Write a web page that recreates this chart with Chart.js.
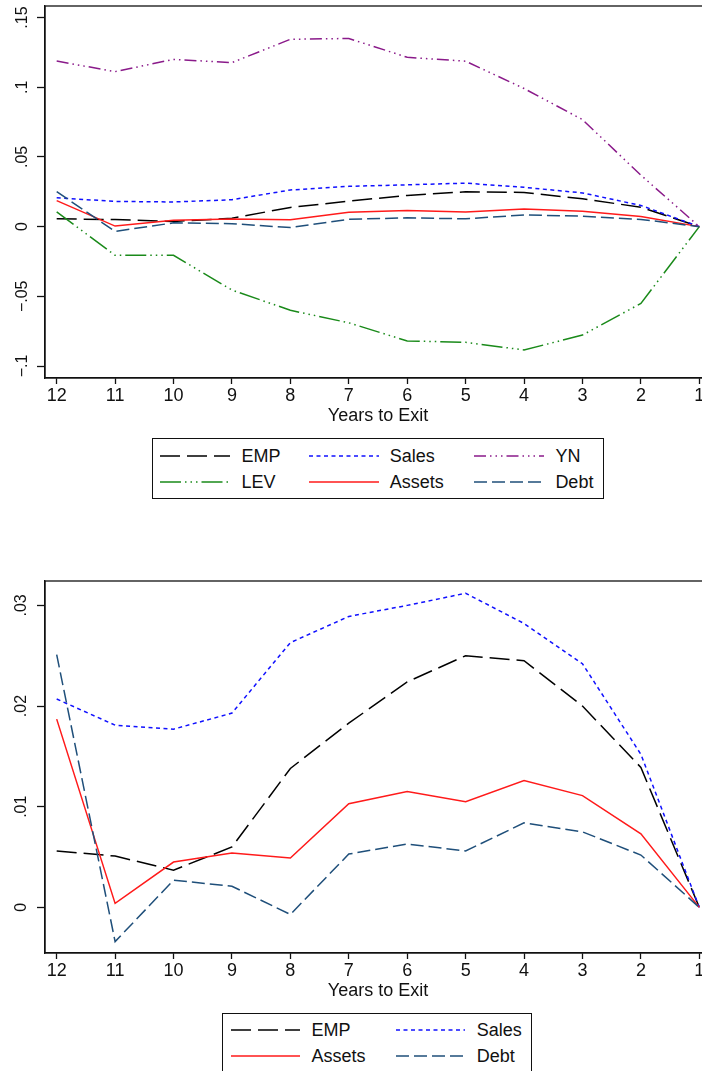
<!DOCTYPE html>
<html><head><meta charset="utf-8">
<script src="https://cdn.jsdelivr.net/npm/chart.js@4.4.1/dist/chart.umd.min.js"></script>
<style>
html,body{margin:0;padding:0;background:#fff;overflow:hidden;width:702px;height:1071px;}
#wrap{position:relative;width:702px;height:1071px;overflow:hidden;font-family:"Liberation Sans",Arial,Helvetica,sans-serif;}
canvas{position:absolute;left:0;}
.legend{position:absolute;border:1.3px solid #111;box-sizing:border-box;background:#fff;}
.item{position:absolute;height:20px;}
.item svg{position:absolute;left:0;top:0;}
.item span{position:absolute;top:0;font-size:18px;line-height:20px;color:#111;white-space:nowrap;}
</style></head><body><div id="wrap">
<canvas id="c1" width="720" height="430" style="top:0px;width:720px;height:430px"></canvas>
<canvas id="c2" width="720" height="464" style="top:541px;width:720px;height:464px"></canvas>
<div id="leg1" class="legend" style="left:152px;top:438px;width:452px;height:61px"></div>
<div id="leg2" class="legend" style="left:222px;top:1013px;width:310px;height:70px"></div>
</div>
<script>
// ---- data ----
const years = [12, 11, 10, 9, 8, 7, 6, 5, 4, 3, 2, 1];
const xTicks = [12, 11, 10, 9, 8, 7, 6, 5, 4, 3, 2, 1];
const xTitle = 'Years to Exit';
const emp    = [0.0056, 0.0051, 0.0037, 0.0060, 0.0138, 0.0183, 0.0224, 0.0250, 0.0245, 0.0200, 0.0139, 0];
const sales  = [0.0207, 0.0181, 0.0177, 0.0193, 0.0263, 0.0289, 0.0300, 0.0312, 0.0282, 0.0242, 0.0152, 0];
const yn     = [0.1188, 0.1112, 0.1200, 0.1177, 0.1344, 0.1350, 0.1215, 0.1187, 0.0991, 0.0768, 0.0369, 0];
const lev    = [0.0106, -0.0206, -0.0206, -0.0455, -0.0600, -0.0690, -0.0820, -0.0830, -0.0885, -0.0778, -0.0551, 0];
const assets = [0.0187, 0.0004, 0.0045, 0.0054, 0.0049, 0.0103, 0.0115, 0.0105, 0.0126, 0.0111, 0.0073, 0];
const debt   = [0.0251, -0.0034, 0.0027, 0.0021, -0.0007, 0.0053, 0.0063, 0.0056, 0.0084, 0.0075, 0.0052, 0];
const yTicksTop = [-0.1, -0.05, 0, 0.05, 0.1, 0.15];
const yLabelsTop = ['\u2212.1', '\u2212.05', '0', '.05', '.1', '.15'];
const yTicksBottom = [0, 0.01, 0.02, 0.03];
const yLabelsBottom = ['0', '.01', '.02', '.03'];

// ---- styles ----
const FONT = '"Liberation Sans", Arial, Helvetica, sans-serif';
const INK = '#111';
const STY = {
  EMP:    {color: '#000000', dash: [20, 7]},
  Sales:  {color: '#1010ff', dash: [4, 3.5]},
  YN:     {color: '#8a1a8a', dash: [12, 4, 1.5, 4, 1.5, 4, 1.5, 4]},
  LEV:    {color: '#1a8a1a', dash: [21, 4, 1.5, 4, 1.5, 4, 1.5, 4]},
  Assets: {color: '#ff1a1a', dash: []},
  Debt:   {color: '#1f4f7a', dash: [13, 5]}
};

function ds(label, vals) {
  return {
    label, data: years.map((x, i) => ({x, y: vals[i]})),
    borderColor: STY[label].color, borderDash: STY[label].dash,
    borderWidth: 1.5, pointRadius: 0, tension: 0, fill: false
  };
}

const framePlugin = {
  id: 'frame',
  beforeDatasetsDraw(chart) {
    const {ctx, chartArea: a} = chart;
    ctx.save();
    ctx.strokeStyle = INK; ctx.lineWidth = 1.3;
    ctx.strokeRect(a.left, a.top, a.right - a.left, a.bottom - a.top);
    ctx.restore();
  }
};

function makeChart(id, datasets, yMin, yMax, yTicks, yLabels, padTop, yPad) {
  return new Chart(document.getElementById(id), {
    type: 'line',
    data: {datasets},
    options: {
      responsive: false, animation: false, devicePixelRatio: 1,
      layout: {padding: {top: padTop, right: 9, left: 0, bottom: 0}},
      plugins: {legend: {display: false}, tooltip: {enabled: false}},
      scales: {
        x: {
          type: 'linear', reverse: true, min: 0.8, max: 12.2, bounds: 'data',
          afterBuildTicks: a => { a.ticks = xTicks.map(v => ({value: v})); },
          afterFit: a => { a.height = 52; a.paddingLeft = 0; a.paddingRight = 0; },
          ticks: {color: INK, font: {size: 18, family: FONT}, padding: 1.5, maxRotation: 0, minRotation: 0,
                  autoSkip: false, callback: v => String(v)},
          grid: {drawOnChartArea: false, drawTicks: true, tickLength: 6, tickColor: INK, tickWidth: 1.3},
          border: {display: true, color: INK, width: 1.3},
          title: {display: true, text: xTitle, color: INK, font: {size: 18, family: FONT}, padding: {top: 0, bottom: 2.7}}
        },
        y: {
          type: 'linear', min: yMin, max: yMax, bounds: 'data',
          afterBuildTicks: a => { a.ticks = yTicks.map(v => ({value: v})); },
          afterFit: a => { a.width = 45; a.paddingTop = 0; a.paddingBottom = 0; },
          ticks: {color: INK, font: {size: 16, family: FONT}, padding: yPad, minRotation: 90, maxRotation: 90,
                  crossAlign: 'center', autoSkip: false,
                  callback: v => { const i = yTicks.findIndex(t => Math.abs(t - v) < 1e-9); return i >= 0 ? yLabels[i] : ''; }},
          grid: {drawOnChartArea: false, drawTicks: true, tickLength: 8, tickColor: INK, tickWidth: 1.3},
          border: {display: true, color: INK, width: 1.3}
        }
      }
    },
    plugins: [framePlugin]
  });
}

makeChart('c1', [ds('EMP', emp), ds('Sales', sales), ds('YN', yn), ds('LEV', lev), ds('Assets', assets), ds('Debt', debt)].reverse(),
  -0.1086, 0.1583, yTicksTop, yLabelsTop, 6, -1.3);
makeChart('c2', [ds('EMP', emp), ds('Sales', sales), ds('Assets', assets), ds('Debt', debt)].reverse(),
  -0.00453, 0.03242, yTicksBottom, yLabelsBottom, 40, 3.9);

// ---- legends ----
function addItem(boxId, boxLeft, boxTop, sx, cy, tx, len, label) {
  const box = document.getElementById(boxId);
  const it = document.createElement('div');
  it.className = 'item';
  it.style.left = (sx - boxLeft - 1.3) + 'px';
  it.style.top = (cy - 10 - boxTop - 1.3) + 'px';
  const s = STY[label];
  const NS = 'http://www.w3.org/2000/svg';
  const svg = document.createElementNS(NS, 'svg');
  svg.setAttribute('width', len); svg.setAttribute('height', 20);
  const ln = document.createElementNS(NS, 'line');
  ln.setAttribute('x1', 0); ln.setAttribute('x2', len); ln.setAttribute('y1', 10); ln.setAttribute('y2', 10);
  ln.setAttribute('stroke', s.color); ln.setAttribute('stroke-width', 1.6);
  if (s.dash.length) ln.setAttribute('stroke-dasharray', s.dash.join(' '));
  svg.appendChild(ln);
  it.appendChild(svg);
  const sp = document.createElement('span');
  sp.textContent = label;
  sp.style.left = (tx - sx) + 'px';
  it.appendChild(sp);
  box.appendChild(it);
}
const leg1Rows = [['EMP', 'Sales', 'YN'], ['LEV', 'Assets', 'Debt']];
const leg1Cols = [[160, 241.7], [309, 390], [474, 555.7]];
const leg1Y = [456, 482.7];
leg1Rows.forEach((row, r) => row.forEach((lab, c) =>
  addItem('leg1', 152, 438, leg1Cols[c][0], leg1Y[r], leg1Cols[c][1], 70, lab)));
const leg2Rows = [['EMP', 'Sales'], ['Assets', 'Debt']];
const leg2Cols = [[231, 311.7], [396, 477]];
const leg2Y = [1030.7, 1056.7];
leg2Rows.forEach((row, r) => row.forEach((lab, c) =>
  addItem('leg2', 222, 1013, leg2Cols[c][0], leg2Y[r], leg2Cols[c][1], 69, lab)));
</script>
</body></html>
